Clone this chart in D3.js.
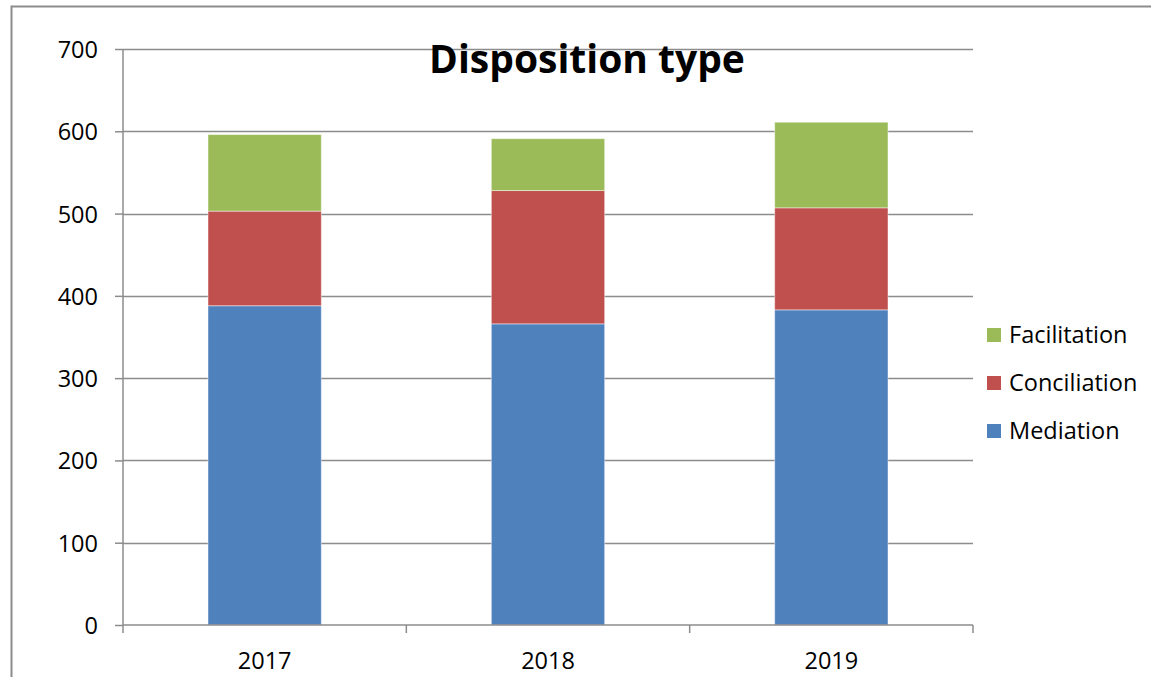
<!DOCTYPE html>
<html>
<head>
<meta charset="utf-8">
<script src="https://cdn.jsdelivr.net/npm/d3@7"></script>
<style>
  body { margin: 0; background: #fff; }
  svg { display: block; font-family: "Open Sans", "Noto Sans", sans-serif; }
</style>
</head>
<body>
<div id="chart"></div>
<script>
const years = ['2017', '2018', '2019'];
const mediation = [388, 366, 383];
const conciliation = [115, 162, 124];
const facilitation = [93, 63, 104];
const yTicks = [0, 100, 200, 300, 400, 500, 600, 700];
const seriesNames = ['Mediation', 'Conciliation', 'Facilitation'];
const seriesColors = ['#4F81BD', '#C0504D', '#9BBB59'];

const w = 1151;
const h = 677;
const plot = { left: 123, right: 973, top: 49, bottom: 625 };

const rows = years.map(function (y, i) {
  return { year: y, Mediation: mediation[i], Conciliation: conciliation[i], Facilitation: facilitation[i] };
});

const stacked = d3.stack().keys(seriesNames)(rows);

const xScale = d3.scaleBand().
domain(years).
range([plot.left, plot.right]).
paddingInner(0.6).
paddingOuter(0.3);

const yScale = d3.scaleLinear().
domain([0, 700]).
range([plot.bottom, plot.top]);

const colour = d3.scaleOrdinal().domain(seriesNames).range(seriesColors);

const svg = d3.select('#chart').
append('svg').
attr('width', w).
attr('height', h);

// outer chart frame
svg.append('path').
attr('d', 'M11.5,' + (h + 2) + 'V6.5H' + (w + 2)).
attr('fill', 'none').
attr('stroke', '#8c8c8c').
attr('stroke-width', 2);

// gridlines
svg.append('g').
selectAll('line').
data(yTicks.filter(d => d > 0)).
enter().
append('line').
attr('x1', plot.left).
attr('x2', plot.right).
attr('y1', d => Math.round(yScale(d)) + 0.5).
attr('y2', d => Math.round(yScale(d)) + 0.5).
attr('stroke', '#8c8c8c').
attr('stroke-width', 1.5);

// bars
svg.append('g').
selectAll('g').
data(stacked).
enter().
append('g').
attr('fill', d => colour(d.key)).
selectAll('rect').
data(d => d).
enter().
append('rect').
attr('x', d => xScale(d.data.year)).
attr('width', xScale.bandwidth()).
attr('y', d => yScale(d[1])).
attr('height', d => yScale(d[0]) - yScale(d[1])).
attr('stroke', 'rgba(255,255,255,0.45)').
attr('stroke-width', 1);

// y axis
const yAxis = d3.axisLeft(yScale).tickValues(yTicks).tickSize(8).tickPadding(17);
const gy = svg.append('g').
attr('transform', 'translate(' + plot.left + ',0)').
call(yAxis).
attr('font-family', null).
attr('font-size', null);
gy.select('.domain').attr('stroke', '#8c8c8c').attr('stroke-width', 1.5).attr('d', 'M0,' + plot.top + 'V' + plot.bottom);
gy.selectAll('.tick line').attr('stroke', '#8c8c8c').attr('stroke-width', 1.5);
gy.selectAll('.tick text').
attr('fill', '#000').
style('font-size', '23.5px').
attr('dy', '0.36em');

// x axis with boundary ticks like the spreadsheet
svg.append('line').
attr('x1', plot.left).
attr('x2', plot.right).
attr('y1', plot.bottom).
attr('y2', plot.bottom).
attr('stroke', '#8c8c8c').
attr('stroke-width', 1.5);

const step = (plot.right - plot.left) / years.length;
svg.append('g').
selectAll('line').
data(d3.range(years.length + 1)).
enter().
append('line').
attr('x1', i => plot.left + i * step).
attr('x2', i => plot.left + i * step).
attr('y1', plot.bottom).
attr('y2', plot.bottom + 8).
attr('stroke', '#8c8c8c').
attr('stroke-width', 1.5);

svg.append('g').
selectAll('text').
data(years).
enter().
append('text').
attr('x', d => xScale(d) + xScale.bandwidth() / 2).
attr('y', 669).
attr('text-anchor', 'middle').
style('font-size', '23.5px').
text(d => d);

// title
svg.append('text').
attr('x', 587).
attr('y', 73).
attr('text-anchor', 'middle').
style('font-size', '39px').
style('font-weight', 'bold').
text('Disposition type');

// legend
const legendItems = seriesNames.slice().reverse();
const legend = svg.append('g').
selectAll('g').
data(legendItems).
enter().
append('g').
attr('transform', (d, i) => 'translate(987,' + (335 + i * 48) + ')');

legend.append('rect').
attr('x', 0).
attr('y', -7).
attr('width', 14).
attr('height', 14).
attr('fill', d => colour(d));

legend.append('text').
attr('x', 22).
attr('dy', '0.36em').
style('font-size', '23.5px').
text(d => d);
</script>
</body>
</html>
